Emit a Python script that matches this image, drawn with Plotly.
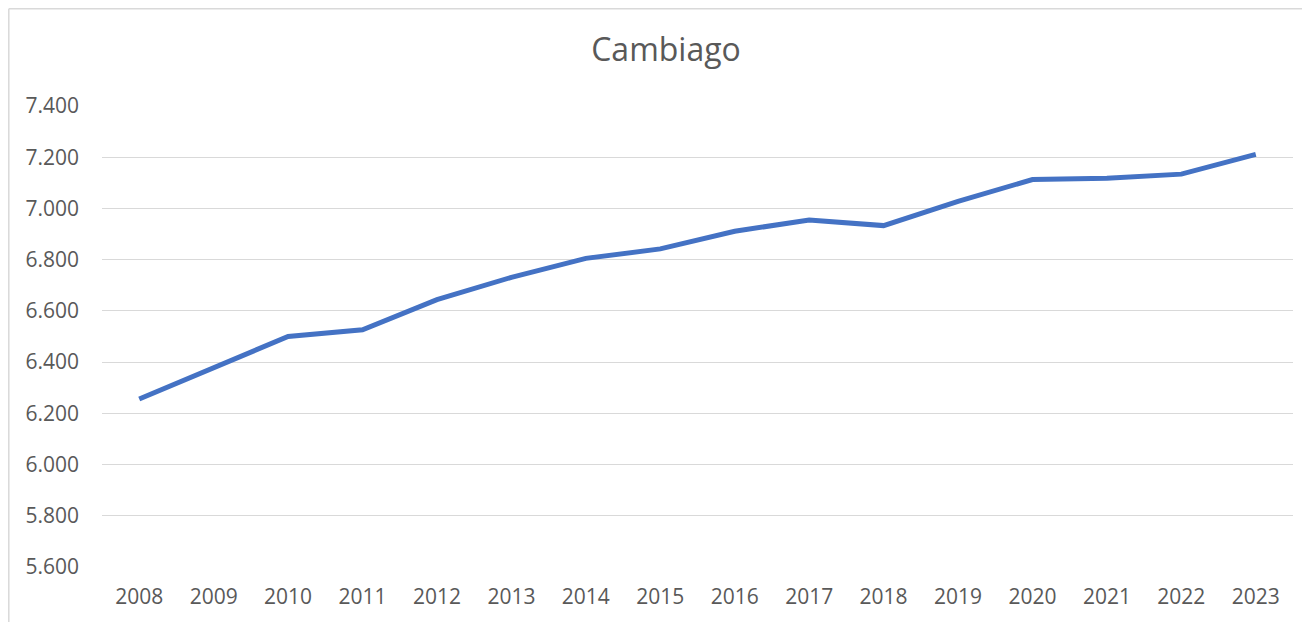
import plotly.graph_objects as go

# Cambiago population by year
years = ["2008", "2009", "2010", "2011", "2012", "2013", "2014", "2015",
         "2016", "2017", "2018", "2019", "2020", "2021", "2022", "2023"]
population = [6256, 6380, 6500, 6526, 6644, 6731, 6805, 6842,
              6911, 6955, 6933, 7028, 7113, 7118, 7134, 7211]

# page has an 8px body margin, so figure coords are page coords minus 8
W, H = 1310, 622
ML, MR, MT, MB = 94, 25, 98, 63
grey_text = "#595959"
grid = "#D9D9D9"

fig = go.Figure()
fig.add_trace(go.Scatter(
    x=years, y=population, mode="lines",
    line=dict(color="#4472C4", width=5), hoverinfo="x+y",
))

# chart frame (only top and left edges visible in the crop)
pw, ph = W - ML - MR, H - MT - MB
fx0 = (0.8 - ML) / pw
fy1 = (H - MB - 0.8) / ph
frame = dict(color=grid, width=1.5)
fig.add_shape(type="line", xref="paper", yref="paper", x0=fx0, x1=1.2, y0=fy1, y1=fy1, line=frame)
fig.add_shape(type="line", xref="paper", yref="paper", x0=fx0, x1=fx0, y0=-0.3, y1=fy1, line=frame)

fig.update_layout(
    width=W, height=H,
    margin=dict(l=ML, r=MR, t=MT, b=MB),
    paper_bgcolor="white", plot_bgcolor="white",
    separators=",.",
    font=dict(family="Open Sans", color=grey_text, size=21),
    title=dict(text="Cambiago", x=658 / W, xanchor="center",
               y=1 - 42 / H, yanchor="middle", yref="container",
               font=dict(size=32, color=grey_text)),
    showlegend=False,
    xaxis=dict(type="category", range=[-0.5, len(years) - 0.5],
               showgrid=False, showline=False, zeroline=False,
               ticks="", ticklabelstandoff=15),
    yaxis=dict(range=[5600, 7400], dtick=200, tickformat=",.0f",
               showgrid=True, gridcolor=grid, gridwidth=1.3,
               zeroline=False, showline=False, ticks="", ticklabelstandoff=22),
)

fig.write_html("out.html")
